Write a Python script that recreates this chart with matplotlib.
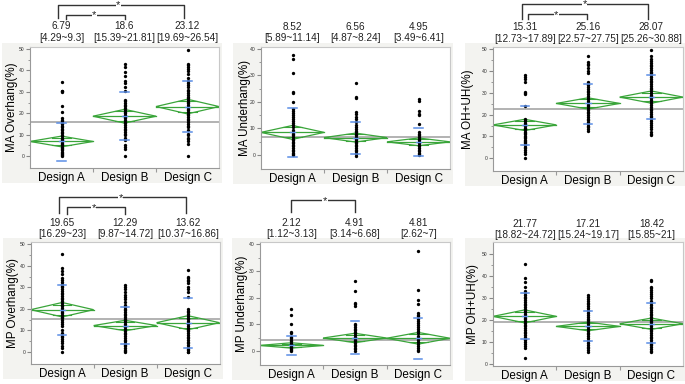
import matplotlib
matplotlib.use("Agg")
import matplotlib.pyplot as plt
from matplotlib.patches import Rectangle, Polygon
from matplotlib.transforms import blended_transform_factory
import numpy as np

plt.rcParams['font.family'] = ['Liberation Sans', 'DejaVu Sans']

W, H = 685, 384

groups = ["Design A", "Design B", "Design C"]

titles = ["MA Overhang(%)", "MA Underhang(%)", "MA OH+UH(%)",
          "MP Overhang(%)", "MP Underhang(%)", "MP OH+UH(%)"]

# mean and 95% CI per group
means = [[6.79, 18.6, 23.12], [8.52, 6.56, 4.95], [15.31, 25.16, 28.07],
         [19.65, 12.29, 13.62], [2.12, 4.91, 4.81], [21.77, 17.21, 18.42]]
ci_lo = [[4.29, 15.39, 19.69], [5.89, 4.87, 3.49], [12.73, 22.57, 25.26],
         [16.29, 9.87, 10.37], [1.12, 3.14, 2.62], [18.82, 15.24, 15.85]]
ci_hi = [[9.3, 21.81, 26.54], [11.14, 8.24, 6.41], [17.89, 27.75, 30.88],
         [23, 14.72, 16.86], [3.13, 6.68, 7], [24.72, 19.17, 21]]
ci_text = [["[4.29~9.3]", "[15.39~21.81]", "[19.69~26.54]"],
           ["[5.89~11.14]", "[4.87~8.24]", "[3.49~6.41]"],
           ["[12.73~17.89]", "[22.57~27.75]", "[25.26~30.88]"],
           ["[16.29~23]", "[9.87~14.72]", "[10.37~16.86]"],
           ["[1.12~3.13]", "[3.14~6.68]", "[2.62~7]"],
           ["[18.82~24.72]", "[15.24~19.17]", "[15.85~21]"]]
mean_text = [["6.79", "18.6", "23.12"], ["8.52", "6.56", "4.95"],
             ["15.31", "25.16", "28.07"], ["19.65", "12.29", "13.62"],
             ["2.12", "4.91", "4.81"], ["21.77", "17.21", "18.42"]]
# mean +/- 1 SD marks
sd_hi = [[15.5, 30, 35.2], [17.7, 12.4, 10.3], [24.2, 34.3, 38],
         [31.3, 21, 25.2], [5.6, 11.1, 12.5], [32.4, 24.4, 27.7]]
sd_lo = [[-2.2, 7.3, 11], [-0.7, 0.5, -0.3], [6.3, 15.9, 18.2],
         [8, 3.8, 2], [-1.5, -1.2, -2.9], [11.6, 10.4, 9.6]]
grand_mean = [16, 6.7, 22.8, 15.4, 4.0, 19.3]

# individual observations
pts = [
    [[34.5, 30.6, 30.2, 29.8, 23.6, 20.6, 17.6, 17, 16.4, 15.6, 15, 14.2, 13.4, 12.6, 12, 11.3, 10.6, 9.8, 9.2,
      8.6, 8, 7.4, 6.8, 6.2, 5.6, 5, 4.4, 3.8, 3.2, 2.6, 2, 1.4, 0.8, 0.3, 0],
     [43.2, 41.6, 39.4, 37.2, 35, 34, 32.4, 30.6, 26.4, 25.6, 24.8, 24, 23.2, 22.4, 21.6, 20.8, 20, 19.2, 18.4,
      17.6, 16.8, 16, 15.2, 14.4, 13.6, 12.8, 12, 11.2, 10.4, 9.6, 8.2, 7.4, 5.2, 4.2, 3.4, 0],
     [49.6, 43.2, 42.4, 41.6, 40.8, 39.6, 38.2, 36.4, 35.2, 34.2, 33.2, 32.2, 31, 30.2, 29.4, 28.6, 27.8, 27,
      26.2, 25.4, 24.6, 23.8, 23, 22.2, 21.4, 20.6, 19.8, 19, 18.2, 17.4, 16.6, 15.8, 15, 14.2, 13.4, 12.2, 10.4,
      9.6, 8.6, 7.8, 7, 5.4, 0]],
    [[37.6, 36.2, 30.8, 23.6, 23.2, 20, 17.4, 16.6, 15.8, 15.2, 14.4, 13.6, 12.8, 12, 11.2, 10.4, 9.6, 8.8, 8,
      7.4, 6.8, 6.2, 5.6, 5, 4.4, 3.8, 3.2, 2.6, 2, 1.4, 0.8, 0.3, 0],
     [27.2, 21.8, 21.4, 16.4, 15.6, 14.2, 13.6, 12.4, 11.2, 10.4, 9.8, 9.2, 8.6, 8, 7.4, 6.8, 6.2, 5.6, 5, 4.4,
      3.8, 3.2, 2.6, 2, 1.4, 0.8, 0.2, -0.3],
     [21.2, 20.4, 16.6, 15.6, 15, 11.8, 8.6, 8, 7.4, 6.8, 6.2, 5.6, 5, 4.4, 3.8, 3.2, 2.6, 2, 1.4, 0.8, 0.3, 0]],
    [[38, 37.2, 36.2, 35.2, 30.6, 30, 29.4, 24, 18.2, 17.6, 17, 16.4, 15.8, 15.2, 14.6, 14, 13.4, 12.8, 12.2,
      11.6, 11, 10.4, 9.8, 9.2, 8.6, 8, 7.4, 6.8, 6.2, 5.4, 4.6, 3.8, 3, 2, 0.2],
     [47, 44, 43.4, 42.6, 41.6, 40, 39.2, 35, 34.2, 33.4, 32.6, 31.8, 31, 30.2, 29.4, 28.6, 27.8, 27, 26.2, 25.4,
      24.6, 23.8, 23, 22.2, 21.4, 20.6, 19.8, 19, 18.2, 17.4, 16.6, 15.8, 15, 14.2, 13.4, 12.6],
     [49.6, 47, 45.4, 44.6, 43.8, 43, 42.2, 41.4, 40.6, 39.8, 39, 38, 37.2, 36.4, 35.6, 34.8, 34, 33.2, 32.4,
      31.6, 30.8, 30, 29.2, 28.4, 27.6, 26.8, 26, 25.2, 24.4, 23.6, 22.8, 22, 21.2, 20.4, 19.6, 18.8, 18, 17.2,
      16.4, 15.4, 14.4, 13.6, 12, 11.2, 10.6]],
    [[45.6, 39, 37.8, 36.2, 34.4, 33.4, 32.4, 31.6, 30.8, 30, 29.2, 28.4, 27.6, 26.8, 26, 25.2, 24.4, 23.6, 22.8,
      22, 21.2, 20.4, 19.6, 18.8, 18, 17.2, 16.4, 15.6, 14.8, 14, 13.2, 12, 10, 8.8, 7.6, 6.8, 6, 5, 4.2, 3, 2, 0],
     [31.2, 30.4, 29.4, 27.8, 26.6, 25.6, 24.4, 23.2, 22, 21, 20.2, 19.4, 18.6, 17.8, 17, 16.2, 15.4, 14.6, 13.8,
      13, 12.2, 11.4, 10.6, 9.8, 9, 8.2, 7.4, 6.6, 5.8, 5, 4.2, 3.4, 2.6, 1.8, 1, 0.4, 0],
     [38.2, 35, 34.4, 33.6, 32.8, 32, 30.4, 29.2, 28, 25.4, 20, 19.2, 18.4, 17.6, 16.8, 16, 15.2, 14.4, 13.6,
      12.8, 12, 11.2, 10.4, 9.6, 8.8, 8, 7.2, 6.4, 5.6, 4.8, 4, 3.2, 2.4, 1.6, 0.8, 0.2, 0]],
    [[15.6, 13.6, 10.2, 7.2, 6.6, 5.4, 4.8, 4.2, 3.6, 3, 2.6, 2.2, 1.8, 1.4, 1, 0.6, 0.3, 0],
     [26.2, 22.4, 18.2, 17.6, 17, 10.2, 9.6, 9, 8.4, 7.8, 7.2, 6.6, 6, 5.4, 4.8, 4.2, 3.6, 3, 2.4, 1.8, 1.2,
      0.6, 0],
     [37.6, 23, 19, 17.6, 14.2, 13.6, 13, 12.2, 11.4, 10.6, 9.8, 9, 8.2, 7.4, 6.6, 5.8, 5, 4.2, 3.4, 2.6, 1.8,
      1, 0.4, 0]],
    [[45.6, 39.2, 37.6, 35, 33.4, 32.4, 31.6, 30.8, 30, 29.2, 28.4, 27.6, 26.8, 26, 25.2, 24.4, 23.6, 22.8, 22,
      21.2, 20.4, 19.6, 18.8, 18, 17.2, 16.4, 15.6, 14.8, 14, 13.2, 12.4, 11.6, 10.8, 10, 9.2, 8.4, 7.6, 3],
     [31.4, 30.6, 29.6, 28.8, 28, 27.2, 26.4, 25.6, 24.8, 24, 23.2, 22.4, 21.6, 20.8, 20, 19.2, 18.4, 17.6, 16.8,
      16, 15.2, 14.4, 13.6, 12.8, 12, 11.2, 10.4, 9.6, 8.8, 8, 7.2, 6.4, 5.6],
     [38.4, 37.8, 35.2, 34.6, 33.8, 33, 32, 31, 30, 28.8, 27.8, 27, 26.2, 25.4, 24.6, 23.8, 23, 22.2, 21.4, 20.6,
      19.8, 19, 18.2, 17.4, 16.6, 15.8, 15, 14.2, 13.4, 12.6, 11.8, 11, 10.2, 9.4, 8.6, 7.8, 7, 6.2, 5.6]],
]

# panel boxes in pixels: left, right, top, bottom
boxes = [(30, 219, 46.7, 168.3), (261, 450, 47, 169), (493, 683, 47, 170.7),
         (30.7, 219.5, 242, 364.3), (259.7, 450, 242, 364.7), (493, 683, 242, 366)]
ylims = [(-5.75, 51.1), (-5.3, 40.75), (-5.7, 51.05), (-5.7, 51.07), (-5.1, 40.9), (-0.8, 55.6)]
ymax_tick = [50, 40, 50, 50, 40, 50]
ylabel_off = [-18, -16, -25, -18, -18, -20]   # label centre, px left of the axis
text_y = [(26, 38), (26.5, 38), (26.5, 39), (222.7, 234.3), (223, 234.3), (223.7, 234.7)]

# significance brackets: (panel, x_left, x_right, y_top_px, y_leg_px, x_star)
brackets = [(0, 0.95, 2.95, 4.5, 18, 1.9), (0, 1.07, 2.0, 14.5, 19, 1.52),
            (2, 0.95, 2.95, 3.5, 19, 1.95), (2, 1.05, 1.98, 13.8, 19, 1.5),
            (3, 0.95, 2.97, 197.3, 212.7, 1.93), (3, 1.07, 2.0, 207, 213.7, 1.5),
            (4, 1.0, 2.0, 200.3, 212, 1.53)]

green = "#3aa53a"
blue = "#5b8ee6"

fig = plt.figure(figsize=(W / 100, H / 100), dpi=100)
axes = []
for i in range(6):
    l, r, t, b = boxes[i]
    fig.patches.append(Rectangle(((l - 28) / W, 1 - (b + 15) / H), (r - l + 31) / W, (b - t + 19) / H,
                                 transform=fig.transFigure, facecolor="#f3f3f0", edgecolor="none", zorder=-10))
    ax = fig.add_axes([l / W, 1 - b / H, (r - l) / W, (b - t) / H])
    axes.append(ax)
    ax.set_facecolor("white")
    ax.set_xlim(0.5, 3.5)
    ax.set_ylim(*ylims[i])
    x = np.arange(1, 4)

    ax.axhline(grand_mean[i], color="#a6a6a6", lw=1.2, zorder=1)
    for j in range(3):
        m, lo, hi = means[i][j], ci_lo[i][j], ci_hi[i][j]
        xl, xr = x[j] - 0.5, x[j] + 0.5
        ax.add_patch(Polygon([(xl, m), (x[j], hi), (xr, m), (x[j], lo)], closed=True, fill=False,
                             edgecolor=green, lw=0.9, zorder=2))
        ax.plot([xl, xr], [m, m], color=green, lw=0.9, zorder=2)
        d = (hi - m) / np.sqrt(2)
        for yy in (m + d, m - d):
            ax.plot([xl + 0.5 * (d / (hi - m)), xr - 0.5 * (d / (hi - m))], [yy, yy], color=green, lw=0.8, zorder=2)
        ax.plot(np.full(len(pts[i][j]), x[j]), pts[i][j], 'o', color="black", ms=2.4, mew=0, zorder=3)
        for yy in (sd_hi[i][j], sd_lo[i][j]):
            ax.plot([x[j] - 0.065, x[j] + 0.065], [yy, yy], color=blue, lw=1.1, zorder=4)
        ax.plot([x[j] - 0.04, x[j] + 0.04], [m, m], color=blue, lw=1.0, zorder=4)

    ax.set_xticks([1.5, 2.5], minor=False)
    ax.set_xticks([1, 2, 3], minor=True)
    ax.set_xticklabels(["", ""])
    ax.set_xticklabels(groups, minor=True, fontsize=8.4)
    ax.tick_params(axis="x", which="major", length=3, color="#999999", direction="out")
    ax.tick_params(axis="x", which="minor", length=0, pad=3)
    ax.set_yticks(np.arange(0, ymax_tick[i] + 1, 10))
    ax.set_yticks(np.arange(5, ymax_tick[i], 10), minor=True)
    ax.tick_params(axis="y", which="major", length=3, labelsize=3.6, pad=1, color="#888888", labelcolor="#333333")
    ax.tick_params(axis="y", which="minor", length=1.8, color="#888888")
    for s in ax.spines.values():
        s.set_color("#c8c8c8")
        s.set_linewidth(0.8)
    ax.spines["left"].set_color("#999999")
    ax.spines["bottom"].set_color("#999999")
    ax.set_ylabel(titles[i], fontsize=8.4, va="center")
    ax.yaxis.set_label_coords(ylabel_off[i] / (r - l), 0.5)

    tr = blended_transform_factory(ax.transData, fig.transFigure)
    for j in range(3):
        ax.text(x[j], 1 - text_y[i][0] / H, mean_text[i][j], transform=tr, ha="center", va="center",
                fontsize=7.2, color="#222222")
        ax.text(x[j], 1 - text_y[i][1] / H, ci_text[i][j], transform=tr, ha="center", va="center",
                fontsize=7.2, color="#222222")

for p, xa, xb, yt, yl, xs in brackets:
    ax = axes[p]
    tr = blended_transform_factory(ax.transData, fig.transFigure)
    ax.plot([xa, xa, xb, xb], [1 - yl / H, 1 - yt / H, 1 - yt / H, 1 - yl / H], color="#333333", lw=1.0,
            transform=tr, clip_on=False)
    ax.text(xs, 1 - (yt + 1) / H, "*", transform=tr, ha="center", va="center", fontsize=8,
            color="#222222", bbox=dict(facecolor="white", edgecolor="none", pad=0.3))

fig.savefig("out.png", dpi=100)
